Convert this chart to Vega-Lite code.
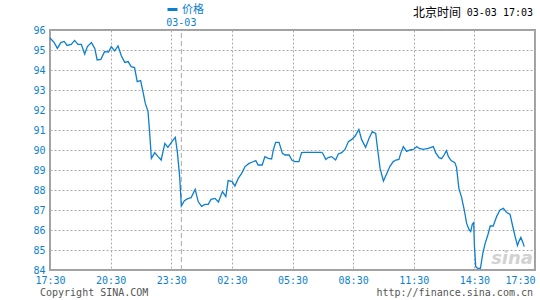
{
  "$schema": "https://vega.github.io/schema/vega-lite/v6.json",
  "width": 485,
  "height": 240,
  "autosize": {"type": "none"},
  "padding": {"left": 50, "top": 30, "right": 5, "bottom": 30},
  "background": "white",
  "config": {
    "view": {"stroke": "#a0a0a0", "strokeWidth": 2},
    "axis": {
      "domain": false,
      "ticks": false,
      "grid": true,
      "gridColor": "#aaaaaa",
      "gridDash": [2, 2],
      "gridWidth": 1,
      "labelFont": "DejaVu Sans Mono",
      "labelFontSize": 10,
      "labelColor": "#0d7fcf",
      "labelOverlap": false,
      "title": null
    }
  },
  "encoding": {
    "x": {
      "field": "t",
      "type": "temporal",
      "scale": {
        "domain": [
          {"year": 2008, "month": 3, "date": 2, "hours": 17, "minutes": 30},
          {"year": 2008, "month": 3, "date": 3, "hours": 17, "minutes": 30}
        ]
      },
      "axis": {
        "values": [
          {"year": 2008, "month": 3, "date": 2, "hours": 17, "minutes": 30},
          {"year": 2008, "month": 3, "date": 2, "hours": 20, "minutes": 30},
          {"year": 2008, "month": 3, "date": 2, "hours": 23, "minutes": 30},
          {"year": 2008, "month": 3, "date": 3, "hours": 2, "minutes": 30},
          {"year": 2008, "month": 3, "date": 3, "hours": 5, "minutes": 30},
          {"year": 2008, "month": 3, "date": 3, "hours": 8, "minutes": 30},
          {"year": 2008, "month": 3, "date": 3, "hours": 11, "minutes": 30},
          {"year": 2008, "month": 3, "date": 3, "hours": 14, "minutes": 30},
          {"year": 2008, "month": 3, "date": 3, "hours": 17, "minutes": 30}
        ],
        "format": "%H:%M",
        "labelPadding": 5,
        "labelOverlap": false,
        "labelFlush": false,
        "labelBound": false,
        "labelAlign": {
          "condition": {"test": "datum.value >= time(datetime(2008, 2, 3, 17, 0))", "value": "right"},
          "value": "center"
        }
      }
    },
    "y": {
      "field": "v",
      "type": "quantitative",
      "scale": {"domain": [84, 96], "nice": false, "zero": false},
      "axis": {
        "values": [84, 85, 86, 87, 88, 89, 90, 91, 92, 93, 94, 95, 96],
        "tickCount": 13,
        "labelOverlap": false,
        "labelPadding": 5
      }
    }
  },
  "layer": [
    {
      "data": {"values": [{"t": "2008-03-03T00:00", "v": 84, "v2": 96}]},
      "mark": {"type": "rule", "color": "#aaaaaa", "strokeDash": [5, 3], "strokeWidth": 1},
      "encoding": {"y2": {"field": "v2"}}
    },
    {
      "data": {
        "values": [
          {"t": "2008-03-02T17:30", "v": 95.6},
          {"t": "2008-03-02T17:42", "v": 95.38},
          {"t": "2008-03-02T17:52", "v": 95.08},
          {"t": "2008-03-02T18:02", "v": 95.37},
          {"t": "2008-03-02T18:12", "v": 95.43},
          {"t": "2008-03-02T18:21", "v": 95.23},
          {"t": "2008-03-02T18:33", "v": 95.28},
          {"t": "2008-03-02T18:43", "v": 95.48},
          {"t": "2008-03-02T18:53", "v": 95.28},
          {"t": "2008-03-02T19:03", "v": 95.28},
          {"t": "2008-03-02T19:13", "v": 94.8},
          {"t": "2008-03-02T19:21", "v": 95.17},
          {"t": "2008-03-02T19:33", "v": 95.37},
          {"t": "2008-03-02T19:43", "v": 95.08},
          {"t": "2008-03-02T19:50", "v": 94.5},
          {"t": "2008-03-02T20:01", "v": 94.53},
          {"t": "2008-03-02T20:12", "v": 94.92},
          {"t": "2008-03-02T20:24", "v": 94.9},
          {"t": "2008-03-02T20:32", "v": 95.17},
          {"t": "2008-03-02T20:42", "v": 94.95},
          {"t": "2008-03-02T20:52", "v": 95.2},
          {"t": "2008-03-02T21:02", "v": 94.7},
          {"t": "2008-03-02T21:12", "v": 94.38},
          {"t": "2008-03-02T21:22", "v": 94.42},
          {"t": "2008-03-02T21:31", "v": 94.17},
          {"t": "2008-03-02T21:41", "v": 94.12},
          {"t": "2008-03-02T21:49", "v": 93.42},
          {"t": "2008-03-02T21:59", "v": 93.47},
          {"t": "2008-03-02T22:06", "v": 92.92},
          {"t": "2008-03-02T22:13", "v": 92.33},
          {"t": "2008-03-02T22:21", "v": 91.93},
          {"t": "2008-03-02T22:26", "v": 90.83},
          {"t": "2008-03-02T22:31", "v": 89.58},
          {"t": "2008-03-02T22:41", "v": 89.87},
          {"t": "2008-03-02T22:51", "v": 89.67},
          {"t": "2008-03-02T23:00", "v": 89.5},
          {"t": "2008-03-02T23:11", "v": 90.33},
          {"t": "2008-03-02T23:20", "v": 90.13},
          {"t": "2008-03-02T23:32", "v": 90.42},
          {"t": "2008-03-02T23:42", "v": 90.63},
          {"t": "2008-03-02T23:48", "v": 89.92},
          {"t": "2008-03-02T23:55", "v": 88.67},
          {"t": "2008-03-03T00:00", "v": 87.2},
          {"t": "2008-03-03T00:09", "v": 87.47},
          {"t": "2008-03-03T00:19", "v": 87.57},
          {"t": "2008-03-03T00:29", "v": 87.62},
          {"t": "2008-03-03T00:41", "v": 88.03},
          {"t": "2008-03-03T00:50", "v": 87.42},
          {"t": "2008-03-03T01:00", "v": 87.18},
          {"t": "2008-03-03T01:10", "v": 87.28},
          {"t": "2008-03-03T01:20", "v": 87.28},
          {"t": "2008-03-03T01:28", "v": 87.53},
          {"t": "2008-03-03T01:40", "v": 87.58},
          {"t": "2008-03-03T01:50", "v": 87.4},
          {"t": "2008-03-03T02:02", "v": 87.92},
          {"t": "2008-03-03T02:12", "v": 87.67},
          {"t": "2008-03-03T02:19", "v": 88.47},
          {"t": "2008-03-03T02:31", "v": 88.42},
          {"t": "2008-03-03T02:39", "v": 88.2},
          {"t": "2008-03-03T02:49", "v": 88.58},
          {"t": "2008-03-03T02:59", "v": 88.83},
          {"t": "2008-03-03T03:09", "v": 89.17},
          {"t": "2008-03-03T03:21", "v": 89.33},
          {"t": "2008-03-03T03:31", "v": 89.4},
          {"t": "2008-03-03T03:41", "v": 89.47},
          {"t": "2008-03-03T03:48", "v": 89.25},
          {"t": "2008-03-03T04:00", "v": 89.25},
          {"t": "2008-03-03T04:08", "v": 89.67},
          {"t": "2008-03-03T04:18", "v": 89.58},
          {"t": "2008-03-03T04:28", "v": 89.55},
          {"t": "2008-03-03T04:33", "v": 90.0},
          {"t": "2008-03-03T04:40", "v": 90.38},
          {"t": "2008-03-03T04:50", "v": 90.38},
          {"t": "2008-03-03T05:00", "v": 89.83},
          {"t": "2008-03-03T05:08", "v": 89.75},
          {"t": "2008-03-03T05:20", "v": 89.75},
          {"t": "2008-03-03T05:28", "v": 89.5},
          {"t": "2008-03-03T05:37", "v": 89.42},
          {"t": "2008-03-03T05:49", "v": 89.42},
          {"t": "2008-03-03T05:57", "v": 89.87},
          {"t": "2008-03-03T06:07", "v": 89.88},
          {"t": "2008-03-03T06:57", "v": 89.88},
          {"t": "2008-03-03T07:01", "v": 89.8},
          {"t": "2008-03-03T07:09", "v": 89.53},
          {"t": "2008-03-03T07:16", "v": 89.62},
          {"t": "2008-03-03T07:26", "v": 89.67},
          {"t": "2008-03-03T07:38", "v": 89.5},
          {"t": "2008-03-03T07:46", "v": 89.8},
          {"t": "2008-03-03T07:56", "v": 89.87},
          {"t": "2008-03-03T08:06", "v": 90.03},
          {"t": "2008-03-03T08:16", "v": 90.42},
          {"t": "2008-03-03T08:26", "v": 90.53},
          {"t": "2008-03-03T08:36", "v": 90.7},
          {"t": "2008-03-03T08:47", "v": 91.03},
          {"t": "2008-03-03T08:55", "v": 90.53},
          {"t": "2008-03-03T09:07", "v": 90.13},
          {"t": "2008-03-03T09:17", "v": 90.58},
          {"t": "2008-03-03T09:27", "v": 90.92},
          {"t": "2008-03-03T09:37", "v": 90.83},
          {"t": "2008-03-03T09:43", "v": 90.0},
          {"t": "2008-03-03T09:50", "v": 89.08},
          {"t": "2008-03-03T10:00", "v": 88.45},
          {"t": "2008-03-03T10:10", "v": 88.83},
          {"t": "2008-03-03T10:19", "v": 89.17},
          {"t": "2008-03-03T10:29", "v": 89.42},
          {"t": "2008-03-03T10:37", "v": 89.5},
          {"t": "2008-03-03T10:46", "v": 89.53},
          {"t": "2008-03-03T10:52", "v": 89.87},
          {"t": "2008-03-03T10:59", "v": 90.17},
          {"t": "2008-03-03T11:09", "v": 89.93},
          {"t": "2008-03-03T11:19", "v": 90.0},
          {"t": "2008-03-03T11:29", "v": 90.03},
          {"t": "2008-03-03T11:39", "v": 90.17},
          {"t": "2008-03-03T11:46", "v": 90.08},
          {"t": "2008-03-03T11:58", "v": 90.03},
          {"t": "2008-03-03T12:13", "v": 90.08},
          {"t": "2008-03-03T12:28", "v": 90.17},
          {"t": "2008-03-03T12:35", "v": 89.87},
          {"t": "2008-03-03T12:45", "v": 89.62},
          {"t": "2008-03-03T12:53", "v": 89.57},
          {"t": "2008-03-03T13:00", "v": 89.75},
          {"t": "2008-03-03T13:07", "v": 89.97},
          {"t": "2008-03-03T13:13", "v": 89.67},
          {"t": "2008-03-03T13:21", "v": 89.47},
          {"t": "2008-03-03T13:32", "v": 89.37},
          {"t": "2008-03-03T13:37", "v": 89.13},
          {"t": "2008-03-03T13:44", "v": 88.08},
          {"t": "2008-03-03T13:52", "v": 87.63},
          {"t": "2008-03-03T14:00", "v": 87.0},
          {"t": "2008-03-03T14:07", "v": 86.33},
          {"t": "2008-03-03T14:14", "v": 86.03},
          {"t": "2008-03-03T14:19", "v": 85.92},
          {"t": "2008-03-03T14:24", "v": 86.3},
          {"t": "2008-03-03T14:28", "v": 86.37},
          {"t": "2008-03-03T14:30", "v": 85.25},
          {"t": "2008-03-03T14:34", "v": 84.17},
          {"t": "2008-03-03T14:40", "v": 84.08},
          {"t": "2008-03-03T14:48", "v": 84.08},
          {"t": "2008-03-03T14:55", "v": 84.83},
          {"t": "2008-03-03T15:02", "v": 85.33},
          {"t": "2008-03-03T15:10", "v": 85.75},
          {"t": "2008-03-03T15:17", "v": 86.2},
          {"t": "2008-03-03T15:26", "v": 86.2},
          {"t": "2008-03-03T15:36", "v": 86.67},
          {"t": "2008-03-03T15:46", "v": 87.0},
          {"t": "2008-03-03T15:56", "v": 87.08},
          {"t": "2008-03-03T16:06", "v": 86.87},
          {"t": "2008-03-03T16:16", "v": 86.78},
          {"t": "2008-03-03T16:23", "v": 86.25},
          {"t": "2008-03-03T16:31", "v": 85.67},
          {"t": "2008-03-03T16:38", "v": 85.22},
          {"t": "2008-03-03T16:42", "v": 85.42},
          {"t": "2008-03-03T16:48", "v": 85.63},
          {"t": "2008-03-03T16:54", "v": 85.38},
          {"t": "2008-03-03T16:58", "v": 85.17}
        ]
      },
      "mark": {"type": "line", "strokeWidth": 1.3, "interpolate": "linear"},
      "encoding": {
        "color": {
          "datum": "价格",
          "scale": {"range": ["#0d7fcf"]},
          "legend": {
            "orient": "none",
            "legendX": 117,
            "legendY": -26,
            "title": null,
            "padding": 0,
            "symbolType": "M-1,-0.3L1,-0.3L1,0.3L-1,0.3Z",
            "symbolSize": 100,
            "symbolFillColor": "#0d7fcf",
            "symbolStrokeWidth": 0,
            "labelFont": "Noto Sans CJK SC",
            "labelFontSize": 11,
            "labelColor": "#0d7fcf",
            "labelOffset": 4
          }
        }
      }
    },
    {
      "data": {"values": [{"t": "2008-03-03T00:00", "v": 96, "label": "03-03"}]},
      "mark": {"type": "text", "font": "DejaVu Sans Mono", "fontSize": 10, "color": "#0d7fcf", "align": "center", "baseline": "alphabetic", "dy": -4},
      "encoding": {"text": {"field": "label"}}
    },
    {
      "data": {"values": [{"t": "2008-03-03T17:30", "v": 96, "label": "北京时间"}]},
      "mark": {"type": "text", "font": "Noto Sans CJK SC", "fontSize": 12, "color": "#000000", "align": "right", "baseline": "alphabetic", "dx": -74, "dy": -13},
      "encoding": {"text": {"field": "label"}}
    },
    {
      "data": {"values": [{"t": "2008-03-03T17:30", "v": 96, "label": "03-03 17:03"}]},
      "mark": {"type": "text", "font": "DejaVu Sans Mono", "fontSize": 10, "color": "#000000", "align": "right", "baseline": "alphabetic", "dx": -2, "dy": -14},
      "encoding": {"text": {"field": "label"}}
    },
    {
      "data": {"values": [{"t": "2008-03-02T17:30", "v": 84, "label": "Copyright  SINA.COM"}]},
      "mark": {"type": "text", "font": "DejaVu Sans Mono", "fontSize": 10, "color": "#555555", "align": "left", "baseline": "alphabetic", "dx": -10, "dy": 26},
      "encoding": {"text": {"field": "label"}}
    },
    {
      "data": {"values": [{"t": "2008-03-03T17:30", "v": 84, "label": "http://finance.sina.com.cn"}]},
      "mark": {"type": "text", "font": "DejaVu Sans Mono", "fontSize": 10, "color": "#555555", "align": "right", "baseline": "alphabetic", "dx": -2, "dy": 26},
      "encoding": {"text": {"field": "label"}}
    },
    {
      "data": {"values": [{"t": "2008-03-03T17:30", "v": 84, "label": "sina"}]},
      "mark": {"type": "text", "font": "DejaVu Sans", "fontSize": 18, "fontStyle": "italic", "fontWeight": "bold", "color": "#c8c8c8", "opacity": 0.8, "align": "right", "baseline": "alphabetic", "dx": -2, "dy": -6},
      "encoding": {"text": {"field": "label"}}
    }
  ]
}
